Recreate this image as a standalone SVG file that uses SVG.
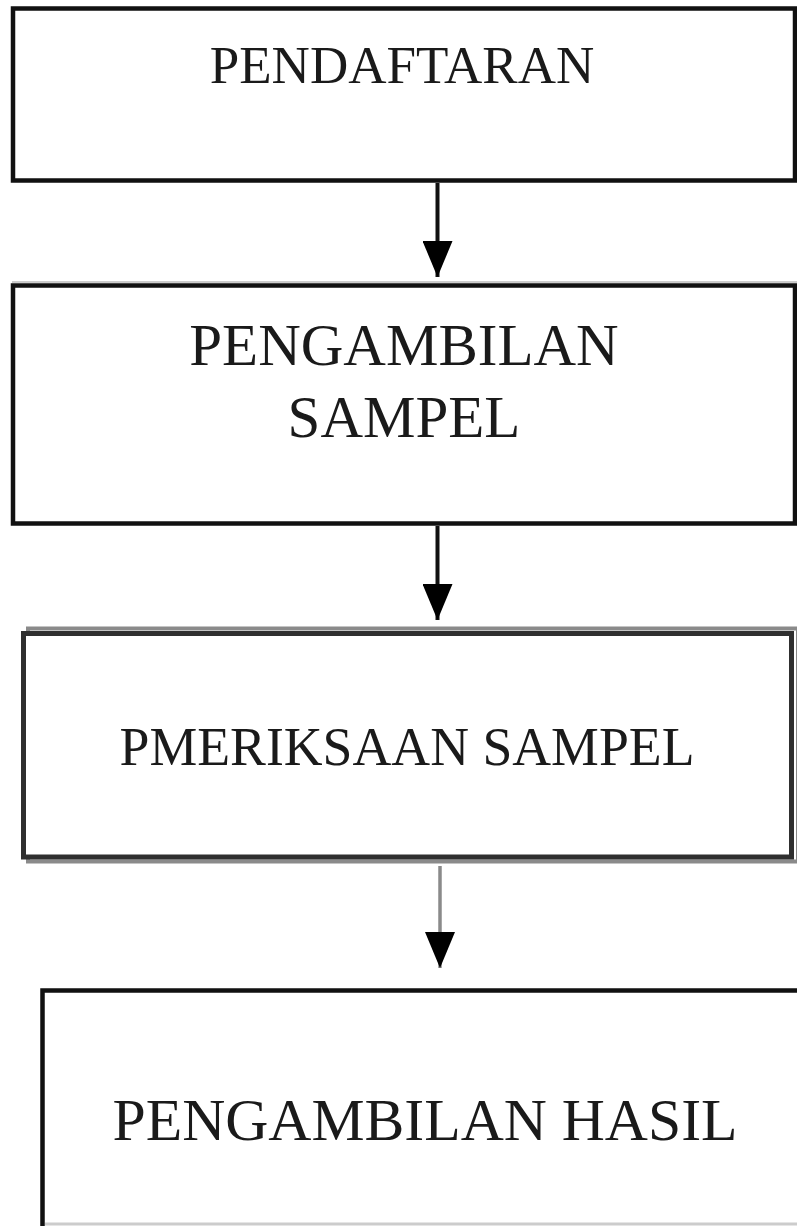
<svg xmlns="http://www.w3.org/2000/svg" width="797" height="1226" viewBox="0 0 797 1226">
<style>
.box{fill:#ffffff;stroke:#111111;stroke-width:4.5}
.lbl{font-family:"Liberation Serif","Times New Roman",serif;fill:#1a1a1a;text-anchor:middle}
.conn{stroke:#111111;stroke-width:4;fill:none}
.conn-gray{stroke:#8a8a8a;stroke-width:3.5;fill:none}
</style>
<defs>
<marker id="ah" markerUnits="userSpaceOnUse" viewBox="0 0 36 30" markerWidth="36" markerHeight="30" refX="36" refY="15" orient="auto">
<path d="M0,0 L36,15 L0,30 z" fill="#000000"/>
</marker>
</defs>
<rect width="797" height="1226" fill="#ffffff"/>
<g id="node-pendaftaran">
<rect class="box" x="13" y="8.5" width="782" height="172"/>
<text class="lbl" x="402" y="83" font-size="53">PENDAFTARAN</text>
</g>
<g id="node-pengambilan-sampel">
<line x1="12" y1="282" x2="797" y2="282" stroke="#cccccc" stroke-width="2"/>
<rect class="box" x="13" y="285.5" width="782" height="238"/>
<text class="lbl" x="404" y="365" font-size="59">PENGAMBILAN</text>
<text class="lbl" x="404" y="437" font-size="59">SAMPEL</text>
</g>
<g id="node-pemeriksaan-sampel">
<rect x="28" y="628.5" width="770" height="233" fill="#ffffff" stroke="#8a8a8a" stroke-width="4"/>
<rect x="23.5" y="633.5" width="768" height="223.5" fill="#ffffff" stroke="#2f2f2f" stroke-width="5"/>
<text class="lbl" x="407" y="765" font-size="54" textLength="575" lengthAdjust="spacingAndGlyphs">PMERIKSAAN SAMPEL</text>
</g>
<g id="node-pengambilan-hasil">
<rect class="box" x="42.5" y="990.5" width="770" height="245" stroke-width="5"/>
<line x1="45" y1="1224" x2="797" y2="1224" stroke="#cccccc" stroke-width="3"/>
<text class="lbl" x="425" y="1140" font-size="60" textLength="625" lengthAdjust="spacingAndGlyphs">PENGAMBILAN HASIL</text>
</g>
<g id="connectors">
<line class="conn" x1="437.5" y1="183" x2="437.5" y2="277" marker-end="url(#ah)"/>
<line class="conn" x1="437.5" y1="526" x2="437.5" y2="620" marker-end="url(#ah)"/>
<line class="conn-gray" x1="440" y1="866" x2="440" y2="968" marker-end="url(#ah)"/>
</g>
</svg>
